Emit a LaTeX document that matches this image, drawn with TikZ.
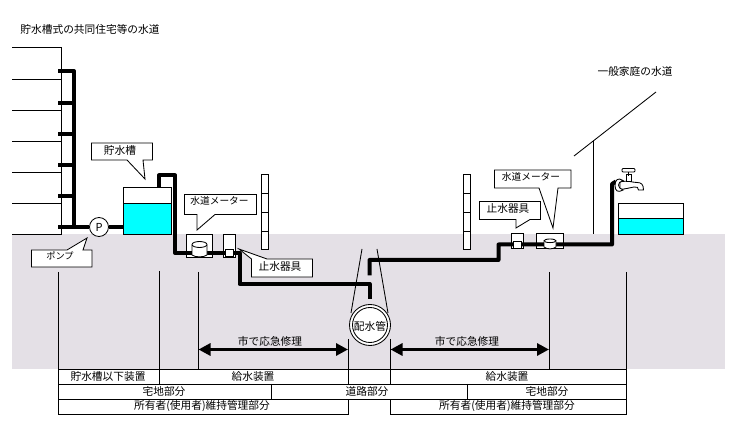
\documentclass[tikz,border=0pt]{standalone}
\usepackage{fontspec}
\setmainfont{Noto Sans CJK JP}
\usetikzlibrary{arrows.meta}
\definecolor{groundc}{RGB}{228,224,230}
\definecolor{waterc}{RGB}{0,255,255}
\tikzset{
  thin line/.style={draw=black,line width=0.85pt},
  pipe/.style={draw=black,line width=4pt,line join=round},
  label text/.style={inner sep=0pt,font=\fontsize{10.7}{12}\selectfont,text=black},
  narrow text/.style={inner sep=0pt,font=\fontsize{9.7}{12}\selectfont,text=black},
  callout/.style={thin line,fill=white,line join=miter},
  white box/.style={thin line,fill=white},
  bigarrow/.style={draw=black,line width=3.2pt,{Triangle[length=12pt,width=12pt]}-{Triangle[length=12pt,width=12pt]},shorten >=-0.5pt,shorten <=-0.5pt},
}
\begin{document}
\begin{tikzpicture}[x=1pt,y=-1pt]
\useasboundingbox (0,0) rectangle (731,435);
\fill[white] (0,0) rectangle (731,435);
\fill[groundc] (12,234) rectangle (725,369);

% building
\draw[thin line] (12,47) -- (61.5,47) -- (61.5,234) -- (12,234);
\foreach \yy in {79,110,141,172,203} \draw[thin line] (12,\yy) -- (61.5,\yy);

% blocks
\foreach \xx in {261.7,463.2}{
  \draw[white box] (\xx,174.5) rectangle (\xx+7,249);
  \foreach \yy in {193,212,231} \draw[thin line] (\xx,\yy) -- (\xx+7,\yy);
}

% vertical reference lines
\foreach \xx/\yy in {58.5/272,159.5/271,198.5/272,549.5/272,626/272,348.5/339,390.5/339}
  \draw[thin line] (\xx,\yy) -- (\xx,369);

% house
\coordinate (roofL) at (574,156);
\coordinate (roofR) at (656,92);
\coordinate (wallT) at (593,141.5);
\coordinate (wallB) at (593,234);
\draw[thin line] (roofL) -- (roofR);
\draw[thin line] (wallT) -- (wallB);

% storage tank
\node[draw=none,fill=white,minimum width=48pt,minimum height=47pt,inner sep=0pt,anchor=north west] (tank) at (123.5,187) {};
\fill[waterc] (123.5,203) rectangle (171.5,234);
\draw[thin line] (123.5,187) rectangle (171.5,234);
\draw[thin line] (123.5,203) -- (171.5,203);

% right basin
\node[fill=white,minimum width=65pt,minimum height=31pt,inner sep=0pt,anchor=north west] (basin) at (618,203) {};
\fill[waterc] (618,218.5) rectangle (683.5,234);
\draw[thin line] (618,203) rectangle (683.5,234);
\draw[thin line] (618,218.5) -- (683.5,218.5);

% meter / valve boxes
\draw[white box] (186.5,234) rectangle (212.5,257);
\draw[white box] (223.5,234) rectangle (235.5,257);
\draw[white box] (536.5,233.5) rectangle (563.5,248.5);
\draw[white box] (511.5,233.5) rectangle (523.5,248.5);

% riser and pipes
\coordinate (topstub) at (58,71);
\coordinate (riserT) at (74,71);
\coordinate (riserB) at (74,227);
\coordinate (botstub) at (58,227);
\node[circle,draw=black,line width=0.85pt,fill=white,minimum size=19pt,inner sep=0pt,font=\fontsize{10.5}{12}\selectfont] (pump) at (99,227) {};
\draw[pipe] (topstub) -- (riserT) -- (riserB);
\foreach \yy in {103,134,165,196} \draw[pipe] (58,\yy) -- (74,\yy);
\draw[pipe] (botstub) -- (pump.west);
\draw[pipe] (pump.east) -- (tank.west |- pump.east);
\node[label text,font=\fontsize{11}{12}\selectfont] (plab) at (99,227) {P};

\coordinate (a1) at (159,187);
\coordinate (a2) at (159,175.5);
\coordinate (a3) at (175,175.5);
\coordinate (a4) at (175,253);
\coordinate (a5) at (239.5,253);
\coordinate (a6) at (239.5,284);
\coordinate (a7) at (369.5,284);
\coordinate (a8) at (369.5,299.5);
\draw[pipe] (a1) -- (a2) -- (a3) -- (a4) -- (a5) -- (a6) -- (a7) -- (a8);
\coordinate (b1) at (369.5,275.5);
\coordinate (b2) at (369.5,260);
\coordinate (b3) at (498.5,260);
\coordinate (b4) at (498.5,244.5);
\coordinate (b5) at (612,244.5);
\coordinate (b6) at (612,184);
\coordinate (b7) at (616,181.5);
\draw[pipe] (b1) -- (b2) -- (b3) -- (b4) -- (b5) -- (b6) -- (b7);

% meters and valves over pipes
\draw[thin line,fill=white] (192,245) -- (192,255) .. controls (195,257.5) and (204,257.5) .. (207,255) -- (207,245);
\draw[thin line,fill=white] (199.5,244.5) ellipse (7.5 and 3);
\draw[thin line,fill=white] (225.5,249) rectangle (233.5,256.5);
\draw[thin line,fill=white] (544,241.5) -- (544,247) .. controls (547,249.5) and (553,249.5) .. (556,247) -- (556,241.5);
\draw[thin line,fill=white] (550,240.8) ellipse (6 and 1.8);
\draw[thin line,fill=white] (513.5,241.5) rectangle (521.5,248.5);

% faucet
\draw[thin line,fill=white] (620,182) .. controls (628,180) and (632,182.5) .. (637,182.5) .. controls (641,182.5) and (643.5,184) .. (643.5,190) -- (638.5,190) .. controls (638.5,187.5) and (637,186.5) .. (634,187) .. controls (629,188) and (625,189) .. (620,189.5) -- cycle;
\draw[thin line,fill=white] (626,181.5) -- (626,174) -- (631,174) -- (631,181.5) -- cycle;
\draw[thin line,fill=white] (628.5,171.5) -- (628.5,176);
\draw[thin line,fill=white,rounded corners=1pt] (622,168.5) -- (635,168.5) -- (635,172) -- (622,172) -- cycle;
\draw[thin line,fill=white] (623,180.5) .. controls (618,177) and (615,180) .. (615,185.5) .. controls (615,191) and (618,193) .. (623,190) .. controls (620,189) and (618.5,187) .. (618.5,185) .. controls (618.5,183) and (620,181.5) .. (623,180.5) -- cycle;

% water main
\coordinate (mainC) at (370,325);
\coordinate (sl1) at (362,249);
\coordinate (sl2) at (351,313);
\coordinate (sr1) at (377,249);
\coordinate (sr2) at (388,313);
\draw[thin line] (sl1) -- (sl2);
\draw[thin line] (sr1) -- (sr2);
\draw[thin line,fill=white] (mainC) circle (20.5);
\draw[thin line,fill=white] (mainC) circle (17.5);
\node[label text] (mainL) at (370,326) {配水管};

% callouts
\draw[callout] (91.5,143) -- (152.5,143) -- (152.5,160) -- (143,160) -- (145,179) -- (127,160) -- (91.5,160) -- cycle;
\node[label text] (c1) at (120,150) {貯水槽};
\draw[callout] (31.5,250) -- (67,250) -- (87,238) -- (83,250) -- (92,250) -- (92,267) -- (31.5,267) -- cycle;
\node[narrow text,font=\fontsize{9.2}{12}\selectfont] (c2) at (60,256) {ポンプ};
\draw[callout] (184.5,194.5) -- (256.5,194.5) -- (256.5,214.5) -- (215,214.5) -- (197,230) -- (197,214.5) -- (184.5,214.5) -- cycle;
\node[narrow text] (c3) at (219.5,200.5) {水道メーター};
\draw[callout] (267,259) -- (239,249) -- (251.5,259) -- (251.5,277) -- (312.5,277) -- (312.5,259) -- cycle;
\node[label text] (c4) at (280,266) {止水器具};
\draw[callout] (494.5,170) -- (571,170) -- (571,188) -- (558,188) -- (553,228) -- (539,188) -- (494.5,188) -- cycle;
\node[narrow text] (c5) at (531,177) {水道メーター};
\draw[callout] (479.5,201.5) -- (540.5,201.5) -- (540.5,219.5) -- (530,219.5) -- (516,228) -- (516,219.5) -- (479.5,219.5) -- cycle;
\node[label text] (c6) at (508,208.5) {止水器具};

% arrows
\coordinate (ar1) at (199,349.5);
\coordinate (ar2) at (347.5,349.5);
\coordinate (ar3) at (391,349.5);
\coordinate (ar4) at (548.5,349.5);
\draw[bigarrow] (ar1) -- (ar2);
\draw[bigarrow] (ar3) -- (ar4);
\node[label text] (rep1) at (270,341) {市で応急修理};
\node[label text] (rep2) at (467,341) {市で応急修理};

% table
\draw[thin line] (58.5,369) -- (626,369);
\draw[thin line] (58.5,384) -- (626,384);
\draw[thin line] (58.5,399) -- (626,399);
\draw[thin line] (58.5,369) -- (58.5,414.5) -- (348.5,414.5) -- (348.5,399);
\draw[thin line] (626,369) -- (626,414.5) -- (390.5,414.5) -- (390.5,399);
\draw[thin line] (348.5,369) -- (348.5,384);
\draw[thin line] (390.5,369) -- (390.5,384);
\draw[thin line] (159.5,369) -- (159.5,384);
\draw[thin line] (271.5,384) -- (271.5,399);
\draw[thin line] (467,384) -- (467,399);
\node[label text] (t1) at (108,376.5) {貯水槽以下装置};
\node[label text] (t2) at (253,376.5) {給水装置};
\node[label text] (t3) at (507,376.5) {給水装置};
\node[label text] (t4) at (164,391.5) {宅地部分};
\node[label text] (t5) at (367,391.5) {道路部分};
\node[label text] (t6) at (547,391.5) {宅地部分};
\node[label text] (t7) at (202,406.5) {所有者(使用者)維持管理部分};
\node[label text] (t8) at (507,406.5) {所有者(使用者)維持管理部分};

% titles
\node[label text] (title1) at (90,29) {貯水槽式の共同住宅等の水道};
\node[label text] (title2) at (635,71) {一般家庭の水道};
\end{tikzpicture}
\end{document}
